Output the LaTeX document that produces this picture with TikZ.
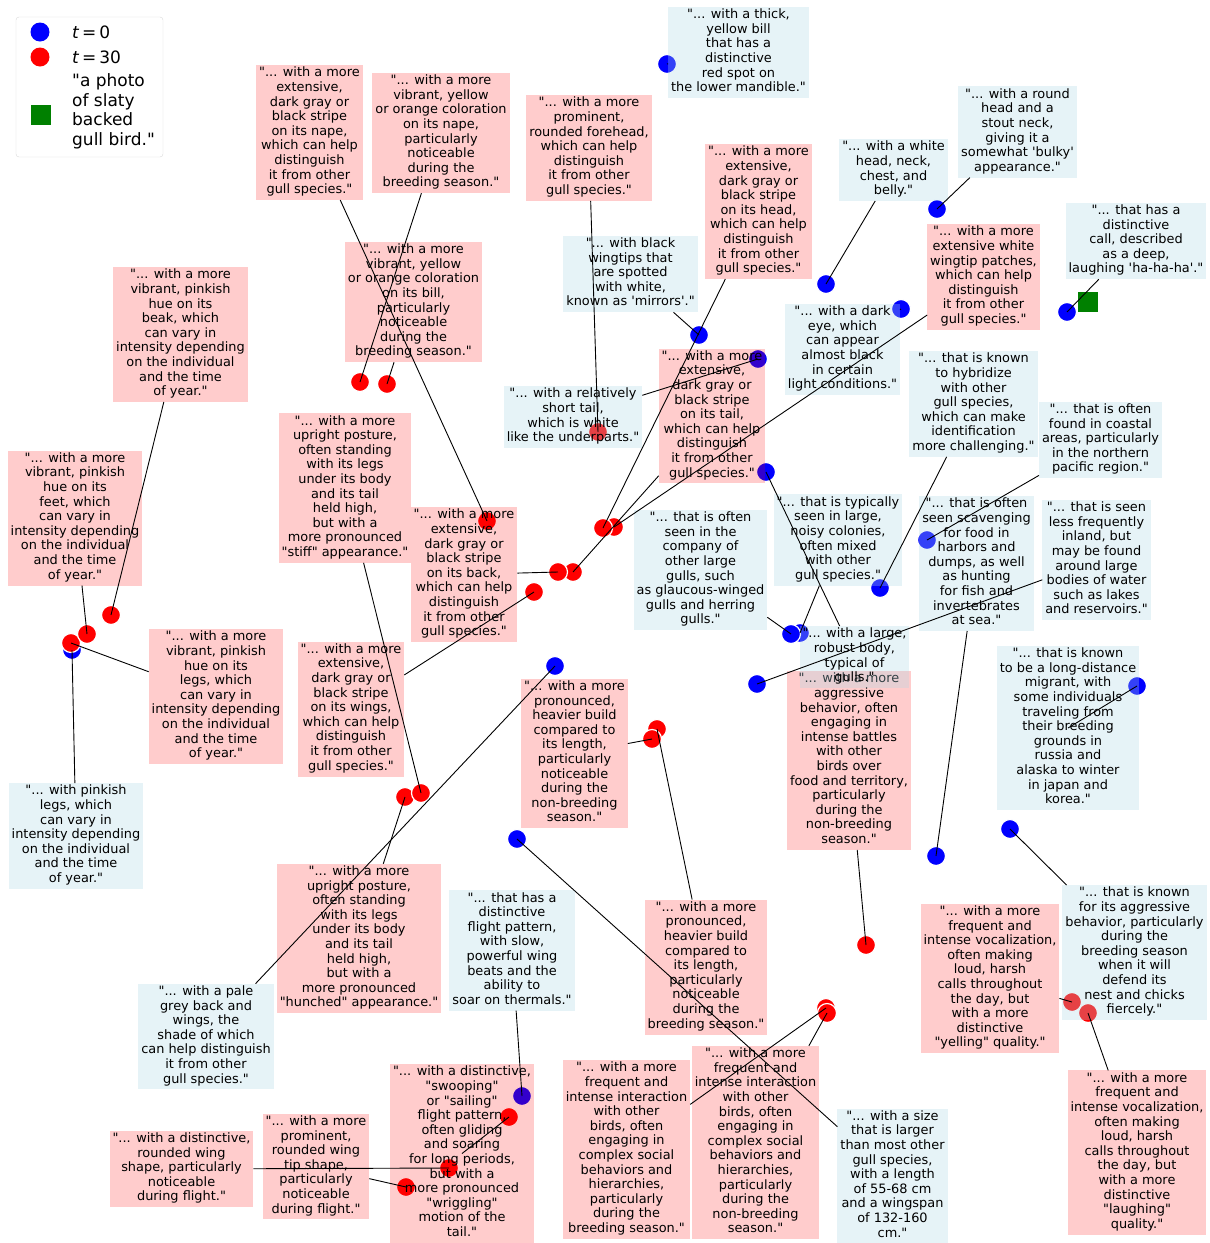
\documentclass[tikz,border=0pt]{standalone}
\usepackage{fontspec}
\setmainfont{DejaVu Sans}[Ligatures=TeXOff]
\usetikzlibrary{positioning}
\definecolor{boxblue}{RGB}{173,216,230}
\definecolor{mplgreen}{RGB}{0,128,0}

\begin{document}
\begin{tikzpicture}[x=1pt,y=-1pt,
    redbox/.style={fill=red,fill opacity=0.2,text opacity=1,align=center,
      inner xsep=3pt,inner ysep=2pt,outer sep=0pt,
      font=\fontsize{12.9}{14.6}\selectfont,
      execute at begin node=\strut,execute at end node=\strut},
    bluebox/.style={redbox,fill=boxblue,fill opacity=0.3},
    gulldot/.style={circle,fill=#1,draw=white,line width=1.2pt,
      minimum size=19pt,inner sep=0pt},
    link/.style={line width=0.9pt},
    keytext/.style={anchor=west,align=left,inner sep=0pt,
      font=\fontsize{17}{19.5}\selectfont}]
  \useasboundingbox (0,0) rectangle (1210,1243);
  % Embeddings (hidden ones first)
  \foreach \n/\x/\y/\c in {pinklegs/72/650/blue, hunched/405/797/red,
      tailstripe/573/572/red, wingpatch/614/527/red, buildb/657/729/red,
      colonies/800/633/blue, interb/826/1008/red, laughing/1088/1013/red,
      legs/71/643/red, feet/87/634/red, stiff/421/793/red, back/558/572/red,
      headstripe/603/528/red, buildnb/652/739/red, company/791/634/blue,
      internb/827/1013/red, yelling/1072/1002/red, nape/487/521/red,
      napeyellow/360/382/red, billyellow/387/384/red, forehead/598/432/red,
      thickbill/667/64/blue, wingtips/699/335/blue, whitehead/826/284/blue,
      roundhead/937/209/blue, call/1067/312/blue, darkeye/901/309/blue,
      shorttail/758/359/blue, beak/111/615/red, wings/534/592/red,
      paleback/555/666/blue, flight/522/1096/blue, swoop/509/1117/red,
      roundwing/449/1168/red, wingtip/406/1187/red, size/517/839/blue,
      battles/866/945/red, robust/766/472/blue, hybrid/880/588/blue,
      coastal/927/540/blue, scavenge/936/856/blue, inland/757/684/blue,
      migrant/1137/686/blue, aggressive/1010/829/blue}
    \node[gulldot=\c] (p-\n) at (\x,\y) {};
  \node[fill=mplgreen,minimum size=20pt,inner sep=0pt] (photo) at (1088,302) {};

  % Descriptions
  \node[redbox] (nape) at (309.5,132.5) {"... with a more\\extensive,\\dark gray or\\black stripe\\on its nape,\\which can help\\distinguish\\it from other\\gull species."};
  \node[redbox] (napeyellow) at (441,133) {"... with a more\\vibrant, yellow\\or orange coloration\\on its nape,\\particularly\\noticeable\\during the\\breeding season."};
  \node[redbox] (billyellow) at (413.5,302) {"... with a more\\vibrant, yellow\\or orange coloration\\on its bill,\\particularly\\noticeable\\during the\\breeding season."};
  \node[redbox] (forehead) at (589,148) {"... with a more\\prominent,\\rounded forehead,\\which can help\\distinguish\\it from other\\gull species."};
  \node[bluebox] (thickbill) at (738.5,52.5) {"... with a thick,\\yellow bill\\that has a\\distinctive\\red spot on\\the lower mandible."};
  \node[redbox] (headstripe) at (758.5,211.5) {"... with a more\\extensive,\\dark gray or\\black stripe\\on its head,\\which can help\\distinguish\\it from other\\gull species."};
  \node[bluebox] (wingtips) at (630.5,274) {"... with black\\wingtips that\\are spotted\\with white,\\known as 'mirrors'."};
  \node[bluebox] (whitehead) at (893.5,170) {"... with a white\\head, neck,\\chest, and\\belly."};
  \node[bluebox] (roundhead) at (1017.5,132) {"... with a round\\head and a\\stout neck,\\giving it a\\somewhat 'bulky'\\appearance."};
  \node[redbox] (wingpatch) at (983.5,277) {"... with a more\\extensive white\\wingtip patches,\\which can help\\distinguish\\it from other\\gull species."};
  \node[bluebox] (call) at (1136,241) {"... that has a\\distinctive\\call, described\\as a deep,\\laughing 'ha-ha-ha'."};
  \node[bluebox] (darkeye) at (842.5,349.5) {"... with a dark\\eye, which\\can appear\\almost black\\in certain\\light conditions."};
  \node[redbox] (tailstripe) at (712,416) {"... with a more\\extensive,\\dark gray or\\black stripe\\on its tail,\\which can help\\distinguish\\it from other\\gull species."};
  \node[bluebox] (shorttail) at (573,417) {"... with a relatively\\short tail,\\which is white\\like the underparts."};
  \node[redbox] (beak) at (180.5,334.5) {"... with a more\\vibrant, pinkish\\hue on its\\beak, which\\can vary in\\intensity depending\\on the individual\\and the time\\of year."};
  \node[redbox] (feet) at (75,518) {"... with a more\\vibrant, pinkish\\hue on its\\feet, which\\can vary in\\intensity depending\\on the individual\\and the time\\of year."};
  \node[redbox] (legs) at (216,696.5) {"... with a more\\vibrant, pinkish\\hue on its\\legs, which\\can vary in\\intensity depending\\on the individual\\and the time\\of year."};
  \node[bluebox] (pinklegs) at (76,836) {"... with pinkish\\legs, which\\can vary in\\intensity depending\\on the individual\\and the time\\of year."};
  \node[redbox] (stiff) at (345,488) {"... with a more\\upright posture,\\often standing\\with its legs\\under its body\\and its tail\\held high,\\but with a\\more pronounced\\"stiff" appearance."};
  \node[redbox] (back) at (464,574.5) {"... with a more\\extensive,\\dark gray or\\black stripe\\on its back,\\which can help\\distinguish\\it from other\\gull species."};
  \node[redbox] (wings) at (351,709) {"... with a more\\extensive,\\dark gray or\\black stripe\\on its wings,\\which can help\\distinguish\\it from other\\gull species."};
  \node[redbox] (buildnb) at (574.5,753.5) {"... with a more\\pronounced,\\heavier build\\compared to\\its length,\\particularly\\noticeable\\during the\\non-breeding\\season."};
  \node[redbox] (buildb) at (706,967) {"... with a more\\pronounced,\\heavier build\\compared to\\its length,\\particularly\\noticeable\\during the\\breeding season."};
  \node[bluebox] (paleback) at (206,1036.5) {"... with a pale\\grey back and\\wings, the\\shade of which\\can help distinguish\\it from other\\gull species."};
  \node[redbox] (hunched) at (359,938.5) {"... with a more\\upright posture,\\often standing\\with its legs\\under its body\\and its tail\\held high,\\but with a\\more pronounced\\"hunched" appearance."};
  \node[bluebox] (flight) at (512,950.5) {"... that has a\\distinctive\\flight pattern,\\with slow,\\powerful wing\\beats and the\\ability to\\soar on thermals."};
  \node[redbox] (swoop) at (462,1153.5) {"... with a distinctive,\\"swooping"\\or "sailing"\\flight pattern,\\often gliding\\and soaring\\for long periods,\\but with a\\more pronounced\\"wriggling"\\motion of the\\tail."};
  \node[redbox] (roundwing) at (181.5,1169) {"... with a distinctive,\\rounded wing\\shape, particularly\\noticeable\\during flight."};
  \node[redbox] (wingtip) at (316,1166.5) {"... with a more\\prominent,\\rounded wing\\tip shape,\\particularly\\noticeable\\during flight."};
  \node[redbox] (interb) at (626.5,1149.5) {"... with a more\\frequent and\\intense interaction\\with other\\birds, often\\engaging in\\complex social\\behaviors and\\hierarchies,\\particularly\\during the\\breeding season."};
  \node[redbox] (internb) at (755.5,1142.5) {"... with a more\\frequent and\\intense interaction\\with other\\birds, often\\engaging in\\complex social\\behaviors and\\hierarchies,\\particularly\\during the\\non-breeding\\season."};
  \node[bluebox] (size) at (892.5,1176) {"... with a size\\that is larger\\than most other\\gull species,\\with a length\\of 55-68 cm\\and a wingspan\\of 132-160\\cm."};
  \node[redbox] (battles) at (849,760.5) {"... with a more\\aggressive\\behavior, often\\engaging in\\intense battles\\with other\\birds over\\food and territory,\\particularly\\during the\\non-breeding\\season."};
  \node[bluebox] (robust) at (854.5,657) {"... with a large,\\robust body,\\typical of\\gulls."};
  \node[bluebox] (colonies) at (838,540) {"... that is typically\\seen in large,\\noisy colonies,\\often mixed\\with other\\gull species."};
  \node[bluebox] (company) at (700.5,570) {"... that is often\\seen in the\\company of\\other large\\gulls, such\\as glaucous-winged\\gulls and herring\\gulls."};
  \node[bluebox] (hybrid) at (973.5,404) {"... that is known\\to hybridize\\with other\\gull species,\\which can make\\identification\\more challenging."};
  \node[bluebox] (coastal) at (1100.5,440) {"... that is often\\found in coastal\\areas, particularly\\in the northern\\pacific region."};
  \node[bluebox] (scavenge) at (976.5,563.5) {"... that is often\\seen scavenging\\for food in\\harbors and\\dumps, as well\\as hunting\\for fish and\\invertebrates\\at sea."};
  \node[bluebox] (inland) at (1096.5,560) {"... that is seen\\less frequently\\inland, but\\may be found\\around large\\bodies of water\\such as lakes\\and reservoirs."};
  \node[bluebox] (migrant) at (1068,728) {"... that is known\\to be a long-distance\\migrant, with\\some individuals\\traveling from\\their breeding\\grounds in\\russia and\\alaska to winter\\in japan and\\korea."};
  \node[bluebox] (aggressive) at (1134.5,952.5) {"... that is known\\for its aggressive\\behavior, particularly\\during the\\breeding season\\when it will\\defend its\\nest and chicks\\fiercely."};
  \node[redbox] (yelling) at (990,978.5) {"... with a more\\frequent and\\intense vocalization,\\often making\\loud, harsh\\calls throughout\\the day, but\\with a more\\distinctive\\"yelling" quality."};
  \node[redbox] (laughing) at (1137,1152.5) {"... with a more\\frequent and\\intense vocalization,\\often making\\loud, harsh\\calls throughout\\the day, but\\with a more\\distinctive\\"laughing"\\quality."};

  % Connect each description to its embedding
  \foreach \b in {nape,napeyellow,billyellow,forehead,thickbill,headstripe,
      wingtips,whitehead,roundhead,wingpatch,call,darkeye,tailstripe,shorttail,
      beak,feet,legs,pinklegs,stiff,back,wings,buildnb,buildb,paleback,hunched,
      flight,roundwing,wingtip,interb,internb,size,battles,robust,colonies,
      company,hybrid,coastal,scavenge,inland,aggressive,yelling,laughing}
    \draw[link] (\b) -- (p-\b.center);
  \draw[link] (swoop.center) -- (p-swoop.center);
  \draw[link] (migrant.center) -- (p-migrant.center);

  % Legend
  \node[draw=gray!30,fill=white,fill opacity=0.8,rounded corners=3pt,
    minimum width=147pt,minimum height=140pt,inner sep=0pt] (legend) at (89.5,87) {};
  \node[gulldot=blue,draw=none] (key0) at (40,32) {};
  \node[keytext] (key0-text) at (72,32) {\textit{t}\,=\,0};
  \node[gulldot=red,draw=none] (key30) at (40,57) {};
  \node[keytext] (key30-text) at (72,57) {\textit{t}\,=\,30};
  \node[fill=mplgreen,minimum size=20pt,inner sep=0pt] (keyphoto) at (41,115) {};
  \node[keytext] (keyphoto-text) at (72,111.5) {"a photo\\of slaty\\backed\\gull bird."};
\end{tikzpicture}
\end{document}
